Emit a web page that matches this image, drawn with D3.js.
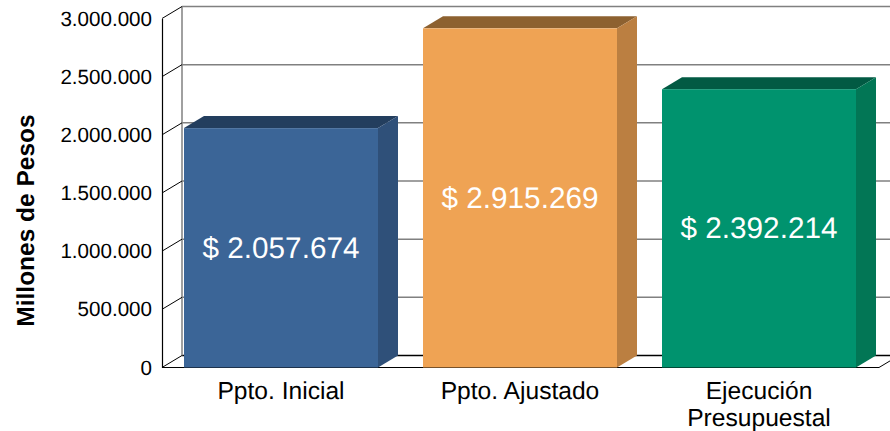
<!DOCTYPE html>
<html>
<head>
<meta charset="utf-8">
<script src="https://cdn.jsdelivr.net/npm/d3@7"></script>
<style>
html, body { margin: 0; padding: 0; background: #fff; overflow: hidden; }
text { font-family: "Liberation Sans", Arial, sans-serif; fill: #000; text-rendering: geometricPrecision; }
</style>
</head>
<body>
<div id="plot"></div>
<script>
var categories = ["Ppto. Inicial", "Ppto. Ajustado", "Ejecución\nPresupuestal"];
var values = [2057674, 2915269, 2392214];
var yTicks = [0, 500000, 1000000, 1500000, 2000000, 2500000, 3000000];
var frontColors = ["#3b6597", "#efa354", "#00936e"];
var topColors = ["#233e5e", "#8d6130", "#025a43"];
var sideColors = ["#2f5079", "#bb7f41", "#027655"];

var width = 890, height = 431;
var depthX = 20, depthY = 12;

// front plane of the 3d box
var y = d3.scaleLinear().domain([0, 3000000]).range([367.5, 18.5]);
var x = d3.scaleBand().domain(categories).range([161.5, 878.5]).paddingInner(45 / 239).paddingOuter(22.5 / 239);

// es-style thousands: 2.057.674
var fmt = d3.formatLocale({decimal: ",", thousands: ".", grouping: [3], currency: ["$", ""]}).format(",d");

var svg = d3.select("#plot").append("svg")
    .attr("width", width)
    .attr("height", height)
    .style("display", "block");

// back wall gridlines
svg.selectAll(".grid")
    .data(yTicks)
  .enter().append("line")
    .attr("x1", 162 + depthX)
    .attr("x2", width)
    .attr("y1", function(d) { return y(d) - depthY; })
    .attr("y2", function(d) { return y(d) - depthY; })
    .attr("stroke", function(d) { return d === 0 ? "#000" : "#808080"; })
    .attr("stroke-width", 1.5);

svg.append("line")
    .attr("x1", 162 + depthX).attr("x2", 162 + depthX)
    .attr("y1", y(3000000) - depthY).attr("y2", y(0) - depthY)
    .attr("stroke", "#808080")
    .attr("stroke-width", 1.5);

// side wall ticks going back
svg.selectAll(".wall")
    .data(yTicks)
  .enter().append("line")
    .attr("x1", 162)
    .attr("x2", 162 + depthX)
    .attr("y1", function(d) { return y(d); })
    .attr("y2", function(d) { return y(d) - depthY; })
    .attr("stroke", "#000");

// floor front edge
svg.append("line")
    .attr("x1", 162).attr("x2", 879)
    .attr("y1", y(0)).attr("y2", y(0))
    .attr("stroke", "#000").attr("stroke-width", 1.2);
svg.append("line")
    .attr("x1", 879).attr("x2", 899)
    .attr("y1", y(0)).attr("y2", y(0) - depthY)
    .attr("stroke", "#000");

// y axis
var yAxis = svg.append("g")
    .attr("transform", "translate(162,0)")
    .call(d3.axisLeft(y).tickValues(yTicks).tickFormat(fmt).tickSize(0).tickPadding(10));
yAxis.select(".domain").attr("stroke", "#000").attr("stroke-width", 1.2);
yAxis.selectAll("text").style("font-size", "20.6px").attr("font-family", null);

// bars
var bars = svg.selectAll(".bar")
    .data(values)
  .enter().append("g");

bars.append("polygon")
    .attr("fill", function(d, i) { return topColors[i]; })
    .attr("points", function(d, i) {
      var l = x(categories[i]), r = l + x.bandwidth(), t = y(d);
      return [[l, t], [l + depthX, t - depthY], [r + depthX, t - depthY], [r, t]].join(" ");
    });

bars.append("polygon")
    .attr("fill", function(d, i) { return sideColors[i]; })
    .attr("points", function(d, i) {
      var r = x(categories[i]) + x.bandwidth(), t = y(d), b = y(0);
      return [[r, t], [r + depthX, t - depthY], [r + depthX, b - depthY], [r, b]].join(" ");
    });

bars.append("rect")
    .attr("fill", function(d, i) { return frontColors[i]; })
    .attr("x", function(d, i) { return x(categories[i]); })
    .attr("y", function(d) { return y(d); })
    .attr("width", x.bandwidth())
    .attr("height", function(d) { return y(0) - y(d); });

// value labels in the middle of each bar
bars.append("text")
    .attr("x", function(d, i) { return x(categories[i]) + x.bandwidth() / 2; })
    .attr("y", function(d) { return (y(d) + y(0)) / 2 + 10; })
    .attr("text-anchor", "middle")
    .style("font-size", "29.7px")
    .style("fill", "#fff")
    .text(function(d) { return "$ " + fmt(d); });

// category labels, split on newline
var labels = svg.selectAll(".cat")
    .data(categories)
  .enter().append("text")
    .attr("text-anchor", "middle")
    .style("font-size", "24.6px");
labels.selectAll("tspan")
    .data(function(d) { return d.split("\n").map(function(s) { return {s: s, cat: d}; }); })
  .enter().append("tspan")
    .attr("x", function(d) { return x(d.cat) + x.bandwidth() / 2; })
    .attr("y", function(d, i) { return 399 + i * 27; })
    .text(function(d) { return d.s; });

// y title
svg.append("text")
    .attr("transform", "translate(34,220.5) rotate(-90)")
    .attr("text-anchor", "middle")
    .style("font-size", "24.5px")
    .style("font-weight", "bold")
    .text("Millones de Pesos");
</script>
</body>
</html>
